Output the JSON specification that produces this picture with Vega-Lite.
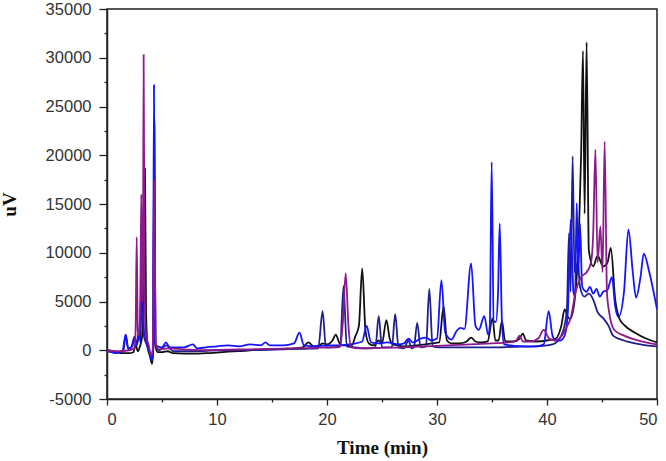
{
  "$schema": "https://vega.github.io/schema/vega-lite/v6.json",
  "width": 550,
  "height": 390,
  "autosize": "none",
  "padding": {"left": 107, "top": 9, "right": 9, "bottom": 62},
  "background": "white",
  "config": {
    "view": {"stroke": "#222", "strokeWidth": 1.5},
    "axis": {
      "grid": false,
      "domainColor": "#222",
      "domainWidth": 1.5,
      "tickColor": "#222",
      "tickWidth": 1.3,
      "labelFont": "Liberation Sans",
      "labelFontSize": 16.5,
      "labelColor": "#333",
      "titleFont": "Liberation Serif",
      "titleFontWeight": "bold",
      "titleFontSize": 19,
      "titleColor": "#111"
    }
  },
  "data": {
    "values": [
      {"s":"a","t":0,"v":0},{"s":"a","t":0.5,"v":-100},{"s":"a","t":1,"v":-250},{"s":"a","t":1.5,"v":-300},{"s":"a","t":2,"v":-300},{"s":"a","t":2.4,"v":-200},{"s":"a","t":2.6,"v":600},{"s":"a","t":2.8,"v":-100},{"s":"a","t":3,"v":400},{"s":"a","t":3.2,"v":1500},{"s":"a","t":3.35,"v":5000},{"s":"a","t":3.45,"v":18600},{"s":"a","t":3.55,"v":4000},{"s":"a","t":3.7,"v":300},{"s":"a","t":3.9,"v":-600},{"s":"a","t":4.1,"v":-1400},{"s":"a","t":4.2,"v":0},{"s":"a","t":4.3,"v":23500},{"s":"a","t":4.4,"v":500},{"s":"a","t":4.6,"v":-200},{"s":"a","t":5,"v":-200},{"s":"a","t":5.5,"v":-100},{"s":"a","t":6,"v":-300},{"s":"a","t":7,"v":-350},{"s":"a","t":8,"v":-350},{"s":"a","t":9,"v":-300},{"s":"a","t":10,"v":-250},{"s":"a","t":11,"v":-150},{"s":"a","t":12,"v":-100},{"s":"a","t":13,"v":0},{"s":"a","t":14,"v":50},{"s":"a","t":15,"v":100},{"s":"a","t":16,"v":150},{"s":"a","t":17,"v":200},{"s":"a","t":17.8,"v":300},{"s":"a","t":18.3,"v":800},{"s":"a","t":18.8,"v":400},{"s":"a","t":19.3,"v":500},{"s":"a","t":19.6,"v":700},{"s":"a","t":20,"v":600},{"s":"a","t":20.5,"v":1000},{"s":"a","t":20.8,"v":1600},{"s":"a","t":21.1,"v":800},{"s":"a","t":21.4,"v":500},{"s":"a","t":21.8,"v":500},{"s":"a","t":22.2,"v":400},{"s":"a","t":22.6,"v":1500},{"s":"a","t":22.9,"v":2500},{"s":"a","t":23.2,"v":8400},{"s":"a","t":23.5,"v":2000},{"s":"a","t":23.8,"v":700},{"s":"a","t":24.2,"v":500},{"s":"a","t":24.7,"v":1000},{"s":"a","t":25,"v":700},{"s":"a","t":25.4,"v":3100},{"s":"a","t":25.7,"v":1200},{"s":"a","t":26,"v":600},{"s":"a","t":26.5,"v":500},{"s":"a","t":27,"v":400},{"s":"a","t":28,"v":500},{"s":"a","t":29,"v":600},{"s":"a","t":29.5,"v":700},{"s":"a","t":30.2,"v":800},{"s":"a","t":30.6,"v":4500},{"s":"a","t":30.9,"v":1000},{"s":"a","t":31.3,"v":700},{"s":"a","t":32,"v":700},{"s":"a","t":32.7,"v":900},{"s":"a","t":33.1,"v":1300},{"s":"a","t":33.5,"v":900},{"s":"a","t":34,"v":800},{"s":"a","t":34.6,"v":900},{"s":"a","t":35.05,"v":3300},{"s":"a","t":35.3,"v":1000},{"s":"a","t":35.6,"v":1000},{"s":"a","t":35.9,"v":3000},{"s":"a","t":36.2,"v":900},{"s":"a","t":37,"v":900},{"s":"a","t":37.5,"v":1200},{"s":"a","t":37.8,"v":1700},{"s":"a","t":38.1,"v":1000},{"s":"a","t":39,"v":900},{"s":"a","t":40,"v":1000},{"s":"a","t":40.8,"v":1200},{"s":"a","t":41.3,"v":2500},{"s":"a","t":41.6,"v":4200},{"s":"a","t":41.9,"v":3400},{"s":"a","t":42.1,"v":3200},{"s":"a","t":42.5,"v":5000},{"s":"a","t":42.9,"v":12000},{"s":"a","t":43.1,"v":20000},{"s":"a","t":43.27,"v":30700},{"s":"a","t":43.42,"v":14000},{"s":"a","t":43.6,"v":31600},{"s":"a","t":43.8,"v":10300},{"s":"a","t":44.2,"v":8600},{"s":"a","t":44.6,"v":9700},{"s":"a","t":45.1,"v":8600},{"s":"a","t":45.5,"v":9000},{"s":"a","t":45.8,"v":10500},{"s":"a","t":46.2,"v":5200},{"s":"a","t":46.6,"v":3200},{"s":"a","t":47,"v":2600},{"s":"a","t":48,"v":1800},{"s":"a","t":49,"v":1200},{"s":"a","t":50,"v":800},

      {"s":"b","t":0,"v":-100},{"s":"b","t":0.8,"v":-200},{"s":"b","t":1.5,"v":0},{"s":"b","t":1.7,"v":1600},{"s":"b","t":1.9,"v":200},{"s":"b","t":2.2,"v":300},{"s":"b","t":2.5,"v":1400},{"s":"b","t":2.7,"v":600},{"s":"b","t":2.9,"v":2000},{"s":"b","t":3.05,"v":800},{"s":"b","t":3.2,"v":8800},{"s":"b","t":3.35,"v":1500},{"s":"b","t":3.6,"v":600},{"s":"b","t":3.9,"v":-300},{"s":"b","t":4.1,"v":-1000},{"s":"b","t":4.2,"v":0},{"s":"b","t":4.3,"v":23000},{"s":"b","t":4.4,"v":600},{"s":"b","t":4.7,"v":0},{"s":"b","t":5.4,"v":500},{"s":"b","t":6,"v":-100},{"s":"b","t":8,"v":-100},{"s":"b","t":10,"v":0},{"s":"b","t":12,"v":0},{"s":"b","t":14,"v":50},{"s":"b","t":16,"v":100},{"s":"b","t":18,"v":150},{"s":"b","t":19.2,"v":200},{"s":"b","t":19.6,"v":4000},{"s":"b","t":19.9,"v":300},{"s":"b","t":20.8,"v":300},{"s":"b","t":21.2,"v":400},{"s":"b","t":21.5,"v":6600},{"s":"b","t":21.8,"v":400},{"s":"b","t":22.5,"v":300},{"s":"b","t":23.5,"v":200},{"s":"b","t":24.4,"v":300},{"s":"b","t":24.7,"v":3500},{"s":"b","t":25,"v":300},{"s":"b","t":25.9,"v":300},{"s":"b","t":26.2,"v":3700},{"s":"b","t":26.5,"v":300},{"s":"b","t":27,"v":200},{"s":"b","t":27.4,"v":1000},{"s":"b","t":27.7,"v":200},{"s":"b","t":27.9,"v":300},{"s":"b","t":28.2,"v":2800},{"s":"b","t":28.5,"v":300},{"s":"b","t":29,"v":400},{"s":"b","t":29.3,"v":6300},{"s":"b","t":29.6,"v":400},{"s":"b","t":30.2,"v":300},{"s":"b","t":31,"v":300},{"s":"b","t":33,"v":300},{"s":"b","t":35,"v":300},{"s":"b","t":37,"v":350},{"s":"b","t":39,"v":400},{"s":"b","t":40.5,"v":600},{"s":"b","t":41.3,"v":1500},{"s":"b","t":41.8,"v":4000},{"s":"b","t":42,"v":12000},{"s":"b","t":42.15,"v":6000},{"s":"b","t":42.33,"v":19900},{"s":"b","t":42.5,"v":8000},{"s":"b","t":42.8,"v":9000},{"s":"b","t":43,"v":6500},{"s":"b","t":43.4,"v":5500},{"s":"b","t":43.8,"v":5800},{"s":"b","t":44.2,"v":5200},{"s":"b","t":44.6,"v":3900},{"s":"b","t":45.1,"v":3300},{"s":"b","t":45.6,"v":2500},{"s":"b","t":46,"v":1500},{"s":"b","t":47,"v":1000},{"s":"b","t":48,"v":700},{"s":"b","t":49,"v":500},{"s":"b","t":50,"v":400},

      {"s":"c","t":0,"v":0},{"s":"c","t":0.8,"v":-300},{"s":"c","t":1.4,"v":-100},{"s":"c","t":1.7,"v":1600},{"s":"c","t":1.95,"v":100},{"s":"c","t":2.3,"v":400},{"s":"c","t":2.5,"v":1200},{"s":"c","t":2.7,"v":500},{"s":"c","t":3,"v":3000},{"s":"c","t":3.2,"v":8800},{"s":"c","t":3.35,"v":2000},{"s":"c","t":3.6,"v":800},{"s":"c","t":3.9,"v":-300},{"s":"c","t":4.1,"v":-1000},{"s":"c","t":4.18,"v":0},{"s":"c","t":4.27,"v":27200},{"s":"c","t":4.38,"v":800},{"s":"c","t":4.6,"v":400},{"s":"c","t":5,"v":300},{"s":"c","t":5.36,"v":800},{"s":"c","t":5.7,"v":300},{"s":"c","t":7,"v":300},{"s":"c","t":7.8,"v":600},{"s":"c","t":8.2,"v":200},{"s":"c","t":9,"v":300},{"s":"c","t":10,"v":400},{"s":"c","t":11,"v":500},{"s":"c","t":12,"v":400},{"s":"c","t":13,"v":600},{"s":"c","t":14,"v":500},{"s":"c","t":14.4,"v":800},{"s":"c","t":14.8,"v":500},{"s":"c","t":16,"v":500},{"s":"c","t":17,"v":700},{"s":"c","t":17.5,"v":1800},{"s":"c","t":17.9,"v":500},{"s":"c","t":19,"v":400},{"s":"c","t":20,"v":500},{"s":"c","t":21,"v":500},{"s":"c","t":22,"v":600},{"s":"c","t":23.2,"v":900},{"s":"c","t":23.6,"v":2500},{"s":"c","t":24,"v":800},{"s":"c","t":24.7,"v":700},{"s":"c","t":25.5,"v":800},{"s":"c","t":26.5,"v":600},{"s":"c","t":27,"v":700},{"s":"c","t":27.4,"v":1200},{"s":"c","t":27.8,"v":800},{"s":"c","t":28.5,"v":1200},{"s":"c","t":29,"v":1300},{"s":"c","t":29.5,"v":1000},{"s":"c","t":30,"v":1200},{"s":"c","t":30.4,"v":7200},{"s":"c","t":30.75,"v":1800},{"s":"c","t":31.3,"v":1100},{"s":"c","t":31.8,"v":2000},{"s":"c","t":32.1,"v":2300},{"s":"c","t":32.5,"v":2200},{"s":"c","t":33.1,"v":8900},{"s":"c","t":33.5,"v":2500},{"s":"c","t":33.8,"v":2100},{"s":"c","t":34.3,"v":3500},{"s":"c","t":34.65,"v":1600},{"s":"c","t":34.8,"v":2500},{"s":"c","t":34.97,"v":19300},{"s":"c","t":35.15,"v":3000},{"s":"c","t":35.35,"v":2900},{"s":"c","t":35.55,"v":6000},{"s":"c","t":35.7,"v":13000},{"s":"c","t":35.9,"v":3000},{"s":"c","t":36.1,"v":600},{"s":"c","t":37,"v":450},{"s":"c","t":38,"v":400},{"s":"c","t":39,"v":400},{"s":"c","t":39.7,"v":600},{"s":"c","t":40.15,"v":4000},{"s":"c","t":40.5,"v":1500},{"s":"c","t":40.8,"v":1000},{"s":"c","t":41.2,"v":1000},{"s":"c","t":41.6,"v":1500},{"s":"c","t":41.9,"v":4000},{"s":"c","t":42.15,"v":13400},{"s":"c","t":42.4,"v":6000},{"s":"c","t":42.55,"v":5500},{"s":"c","t":42.7,"v":15100},{"s":"c","t":42.85,"v":8000},{"s":"c","t":43,"v":13000},{"s":"c","t":43.2,"v":6500},{"s":"c","t":43.6,"v":6000},{"s":"c","t":43.9,"v":6500},{"s":"c","t":44.2,"v":5800},{"s":"c","t":44.5,"v":6300},{"s":"c","t":44.8,"v":5500},{"s":"c","t":45.1,"v":6000},{"s":"c","t":45.5,"v":6200},{"s":"c","t":45.9,"v":7500},{"s":"c","t":46.2,"v":4500},{"s":"c","t":46.5,"v":3400},{"s":"c","t":47,"v":6000},{"s":"c","t":47.4,"v":12400},{"s":"c","t":47.8,"v":8000},{"s":"c","t":48.1,"v":5400},{"s":"c","t":48.5,"v":7500},{"s":"c","t":48.8,"v":9900},{"s":"c","t":49.3,"v":8000},{"s":"c","t":50,"v":4200},

      {"s":"d","t":0,"v":0},{"s":"d","t":1,"v":-100},{"s":"d","t":2,"v":0},{"s":"d","t":2.5,"v":200},{"s":"d","t":2.6,"v":2000},{"s":"d","t":2.7,"v":11600},{"s":"d","t":2.8,"v":2000},{"s":"d","t":2.95,"v":1500},{"s":"d","t":3.05,"v":8000},{"s":"d","t":3.12,"v":16000},{"s":"d","t":3.2,"v":5000},{"s":"d","t":3.27,"v":8000},{"s":"d","t":3.33,"v":30300},{"s":"d","t":3.42,"v":6000},{"s":"d","t":3.55,"v":1500},{"s":"d","t":3.8,"v":500},{"s":"d","t":4,"v":-500},{"s":"d","t":4.15,"v":0},{"s":"d","t":4.3,"v":17400},{"s":"d","t":4.42,"v":800},{"s":"d","t":4.7,"v":100},{"s":"d","t":5.5,"v":200},{"s":"d","t":7,"v":100},{"s":"d","t":9,"v":0},{"s":"d","t":11,"v":50},{"s":"d","t":13,"v":100},{"s":"d","t":15,"v":150},{"s":"d","t":17,"v":200},{"s":"d","t":19,"v":250},{"s":"d","t":20.5,"v":300},{"s":"d","t":21.2,"v":400},{"s":"d","t":21.45,"v":3000},{"s":"d","t":21.7,"v":7900},{"s":"d","t":21.95,"v":2500},{"s":"d","t":22.2,"v":300},{"s":"d","t":23,"v":200},{"s":"d","t":25,"v":250},{"s":"d","t":27,"v":300},{"s":"d","t":29,"v":400},{"s":"d","t":31,"v":500},{"s":"d","t":33,"v":600},{"s":"d","t":35,"v":700},{"s":"d","t":36.5,"v":800},{"s":"d","t":37.2,"v":1000},{"s":"d","t":37.5,"v":1500},{"s":"d","t":37.8,"v":900},{"s":"d","t":38.5,"v":900},{"s":"d","t":39.2,"v":1200},{"s":"d","t":39.7,"v":2100},{"s":"d","t":40.2,"v":1200},{"s":"d","t":40.7,"v":1000},{"s":"d","t":41.2,"v":1300},{"s":"d","t":41.7,"v":2200},{"s":"d","t":42.2,"v":3500},{"s":"d","t":42.6,"v":6000},{"s":"d","t":43.1,"v":7500},{"s":"d","t":43.6,"v":8000},{"s":"d","t":44,"v":9000},{"s":"d","t":44.2,"v":12000},{"s":"d","t":44.4,"v":20600},{"s":"d","t":44.6,"v":9000},{"s":"d","t":44.85,"v":12700},{"s":"d","t":45.05,"v":8000},{"s":"d","t":45.24,"v":21400},{"s":"d","t":45.45,"v":6000},{"s":"d","t":45.65,"v":3900},{"s":"d","t":46.1,"v":2100},{"s":"d","t":47,"v":1500},{"s":"d","t":48,"v":1100},{"s":"d","t":49,"v":800},{"s":"d","t":50,"v":600}
    ]
  },
  "mark": {"type": "line", "strokeWidth": 1.8, "interpolate": "monotone", "clip": true},
  "encoding": {
    "x": {
      "field": "t", "type": "quantitative",
      "scale": {"domain": [0, 50], "nice": false},
      "axis": {
        "title": "Time (min)",
        "values": [0, 5, 10, 15, 20, 25, 30, 35, 40, 45, 50],
        "labelExpr": "datum.value % 10 === 0 ? datum.label : ''",
        "tickSize": {"condition": {"test": "datum.value % 10 === 0", "value": 6}, "value": 3},
        "labelPadding": 6,
        "titlePadding": 11
      }
    },
    "y": {
      "field": "v", "type": "quantitative",
      "scale": {"domain": [-5000, 35000], "nice": false},
      "axis": {
        "title": "uV",
        "values": [-5000, -2500, 0, 2500, 5000, 7500, 10000, 12500, 15000, 17500, 20000, 22500, 25000, 27500, 30000, 32500, 35000],
        "labelExpr": "datum.value % 5000 === 0 ? toString(datum.value) : ''",
        "tickSize": {"condition": {"test": "datum.value % 5000 === 0", "value": 8}, "value": 3},
        "labelPadding": 8,
        "titlePadding": 26
      }
    },
    "color": {
      "field": "s", "type": "nominal",
      "scale": {"domain": ["a", "b", "c", "d"], "range": ["#111111", "#1f1f8f", "#1414ff", "#8c1a8c"]},
      "legend": null
    }
  }
}
